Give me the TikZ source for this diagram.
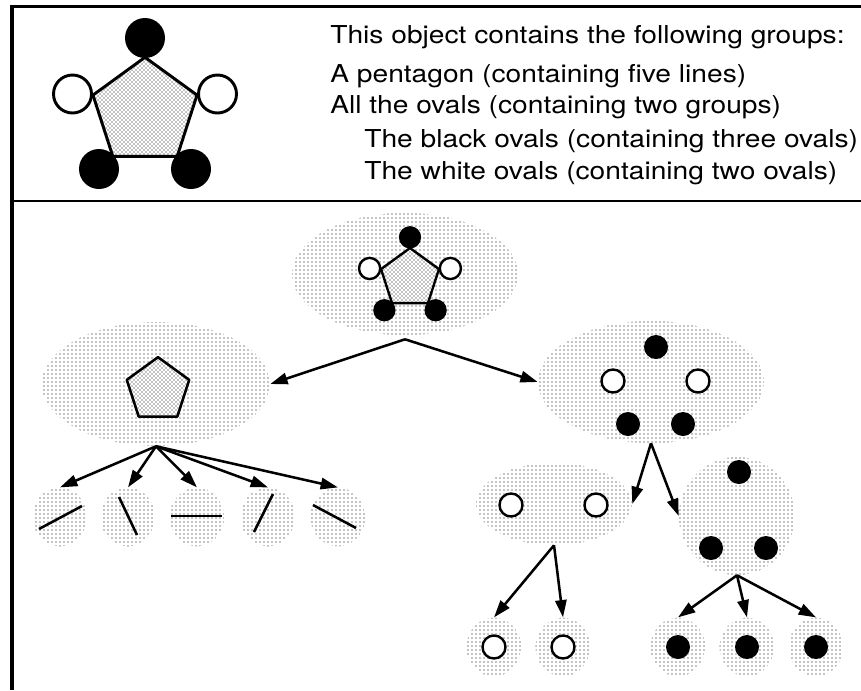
\documentclass[tikz,border=0pt]{standalone}
\usepackage{fontspec}
\setmainfont{TeX Gyre Heros}
\usetikzlibrary{patterns,arrows.meta,shapes.geometric}
\newcommand{\pentshape}{%
  \path[preaction={fill=white}, pattern=crosshatch dots, draw=black, line join=round]
    (0,-54.7) -- (52,-16.9) -- (32.2,44.3) -- (-32.2,44.3) -- (-52,-16.9) -- cycle;}
\tikzset{
  grp/.style={ellipse, inner sep=0pt, draw=none, pattern=dots, pattern color=black},
  arr/.style={line width=1.9pt, -{Triangle[length=13pt,width=8.5pt]}},
  seg/.style={line width=1.9pt},
  bdot/.style={fill=black},
  wdot/.style={fill=white, draw=black},
  txt/.style={anchor=base west, inner sep=0pt, font=\fontsize{18.5}{22}\selectfont, xscale=1.142, transform shape},
  pent/.pic={\pentshape},
  fullobj/.pic={
    \pentshape
    \fill[bdot] (0,-74) circle (20);
    \path[wdot] (-72.5,-18) circle (19) (72.5,-18) circle (19);
    \fill[bdot] (-46,57) circle (20) (46,57) circle (20);
  }
}
\begin{document}
\begin{tikzpicture}[x=0.75pt, y=-0.75pt]
\useasboundingbox (0,0) rectangle (861,690);
% frame
\draw[line width=2.3pt] (861,6.5) -- (12,6.5) -- (12,690);
\draw[line width=2pt] (12,201) -- (861,201);
% top-left object
\pic[line width=2.2pt] at (145,112) {fullobj};
% description
\node[txt] (t1) at (330,43) {This object contains the following groups:};
\node[txt] (t2) at (330,82) {A pentagon (containing five lines)};
\node[txt] (t3) at (330,113) {All the ovals (containing two groups)};
\node[txt] (t4) at (364,147) {The black ovals (containing three ovals)};
\node[txt] (t5) at (364,179) {The white ovals (containing two ovals)};
% tree nodes
\node[grp, minimum width=169.5pt, minimum height=91.5pt] (root) at (405,274) {};
\node[grp, minimum width=171pt, minimum height=93pt] (pents) at (156,384) {};
\node[grp, minimum width=169.5pt, minimum height=91.5pt] (ovals) at (651,382) {};
\node[grp, minimum width=117pt, minimum height=61.5pt] (whites) at (554,504) {};
\node[grp, minimum width=87pt, minimum height=88.5pt] (blacks) at (737,516) {};
\foreach \n/\x in {l1/60,l2/128,l3/197,l4/268,l5/338}
  \node[grp, minimum width=41pt, minimum height=44pt] (\n) at (\x,517) {};
\foreach \n/\x in {w1/494,w2/563,b1/678,b2/747,b3/816}
  \node[grp, minimum width=41pt, minimum height=44pt] (\n) at (\x,647) {};
% contents
\pic[scale=0.557, line width=1.8pt] at (410,278.5) {fullobj};
\pic[scale=0.6, line width=1.9pt] at (158,390) {pent};
\fill[bdot] (656,347) circle (12);
\path[wdot, line width=1.8pt] (613,381) circle (11.5) (698,381) circle (11.5);
\fill[bdot] (628,424) circle (12) (683,424) circle (12);
\path[wdot, line width=1.8pt] (511,505) circle (11.5) (596,505) circle (11.5);
\fill[bdot] (739,472) circle (12) (711,548) circle (12) (766,548) circle (12);
\path[wdot, line width=1.8pt] (494,647) circle (11.5) (563,647) circle (11.5);
\fill[bdot] (678,647) circle (12) (747,647) circle (12) (816,647) circle (12);
\draw[seg] (39,529) -- (82,506);
\draw[seg] (119,497) -- (137,535);
\draw[seg] (171,516) -- (222,516);
\draw[seg] (273,494) -- (254,532);
\draw[seg] (313,505) -- (356,528);
% connectors
\draw[arr] ([yshift=-3pt]root.south) -- (pents.east);
\draw[arr] ([yshift=-3pt]root.south) -- (ovals.west);
\foreach \n in {l1,l2,l3,l4,l5}
  \draw[arr] (pents.south) -- (\n.north);
\draw[arr] (ovals.south) -- (whites.east);
\draw[arr] (ovals.south) -- (blacks.west);
\draw[arr] (whites.south) -- (w1.north);
\draw[arr] (whites.south) -- (w2.north);
\draw[arr] (blacks.south) -- (b1.north);
\draw[arr] (blacks.south) -- (b2.north);
\draw[arr] (blacks.south) -- (b3.north);
\end{tikzpicture}
\end{document}
